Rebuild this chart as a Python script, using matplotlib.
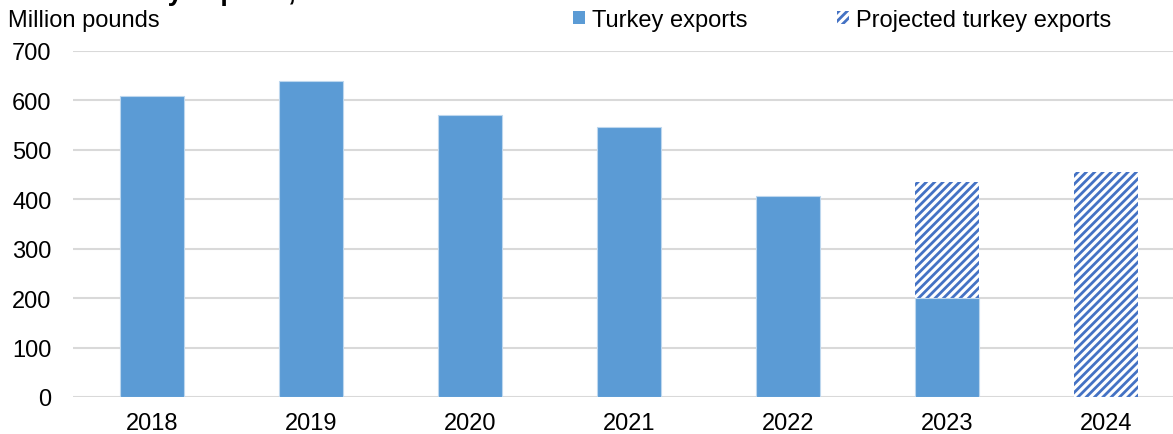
import numpy as np
import matplotlib
matplotlib.use("Agg")
import matplotlib.pyplot as plt
from matplotlib.patches import Patch

plt.rcParams['font.family'] = ['Liberation Sans', 'DejaVu Sans']
plt.rcParams['hatch.linewidth'] = 2.0

years = ["2018", "2019", "2020", "2021", "2022", "2023", "2024"]
exports = [609, 640, 571, 547, 407, 200, 0]          # reported, million pounds
projected = [0, 0, 0, 0, 0, 435, 455]                 # projected totals
yticks = [0, 100, 200, 300, 400, 500, 600, 700]

solid_color = "#5B9BD5"
hatch_color = "#4472C4"
grid_color = "#D9D9D9"
FS = 17

fig = plt.figure(figsize=(11.73, 4.35), dpi=100)
ax = fig.add_axes([72.5 / 1173, 37 / 435, 1113 / 1173, 346 / 435])

x = np.arange(len(years))
width = 0.40

ax.bar(x, projected, width, color="white", edgecolor=hatch_color,
       hatch="////", linewidth=0, zorder=2)
ax.bar(x, exports, width, color=solid_color, edgecolor="#BDD7EE",
       linewidth=0.8, zorder=3)

ax.set_xlim(-0.5, len(years) - 0.5)
ax.set_ylim(0, 700)
ax.set_yticks(yticks)
ax.set_yticklabels([str(v) for v in yticks])
ax.set_xticks(x)
ax.set_xticklabels(years)
ax.tick_params(axis="both", length=0, labelsize=FS, colors="black")
ax.tick_params(axis="y", pad=15)
ax.tick_params(axis="x", pad=11)
ax.yaxis.grid(True, color=grid_color, linewidth=1.5, zorder=0)
ax.set_axisbelow(True)
for s in ax.spines.values():
    s.set_visible(False)

fig.text(8 / 1173, 1 - 21 / 435, "Million pounds", fontsize=FS,
         ha="left", va="center")
fig.text(41 / 1173, 1 + 0.5 / 435, "U.S. turkey exports, 2018",
         fontsize=19.5, fontweight="bold", ha="left", va="baseline")

handles = [
    Patch(facecolor=solid_color, edgecolor="none", label="Turkey exports"),
    Patch(facecolor="white", edgecolor=hatch_color, hatch="////",
          linewidth=0, label="Projected turkey exports"),
]
fig.legend(handles=handles, loc="center left",
           bbox_to_anchor=(573 / 1173, 1 - 21 / 435), ncol=2, frameon=False,
           fontsize=FS, handlelength=0.5, handleheight=0.5,
           handletextpad=0.3, columnspacing=3.8, borderpad=0, borderaxespad=0)

fig.savefig("out.png", dpi=100)
